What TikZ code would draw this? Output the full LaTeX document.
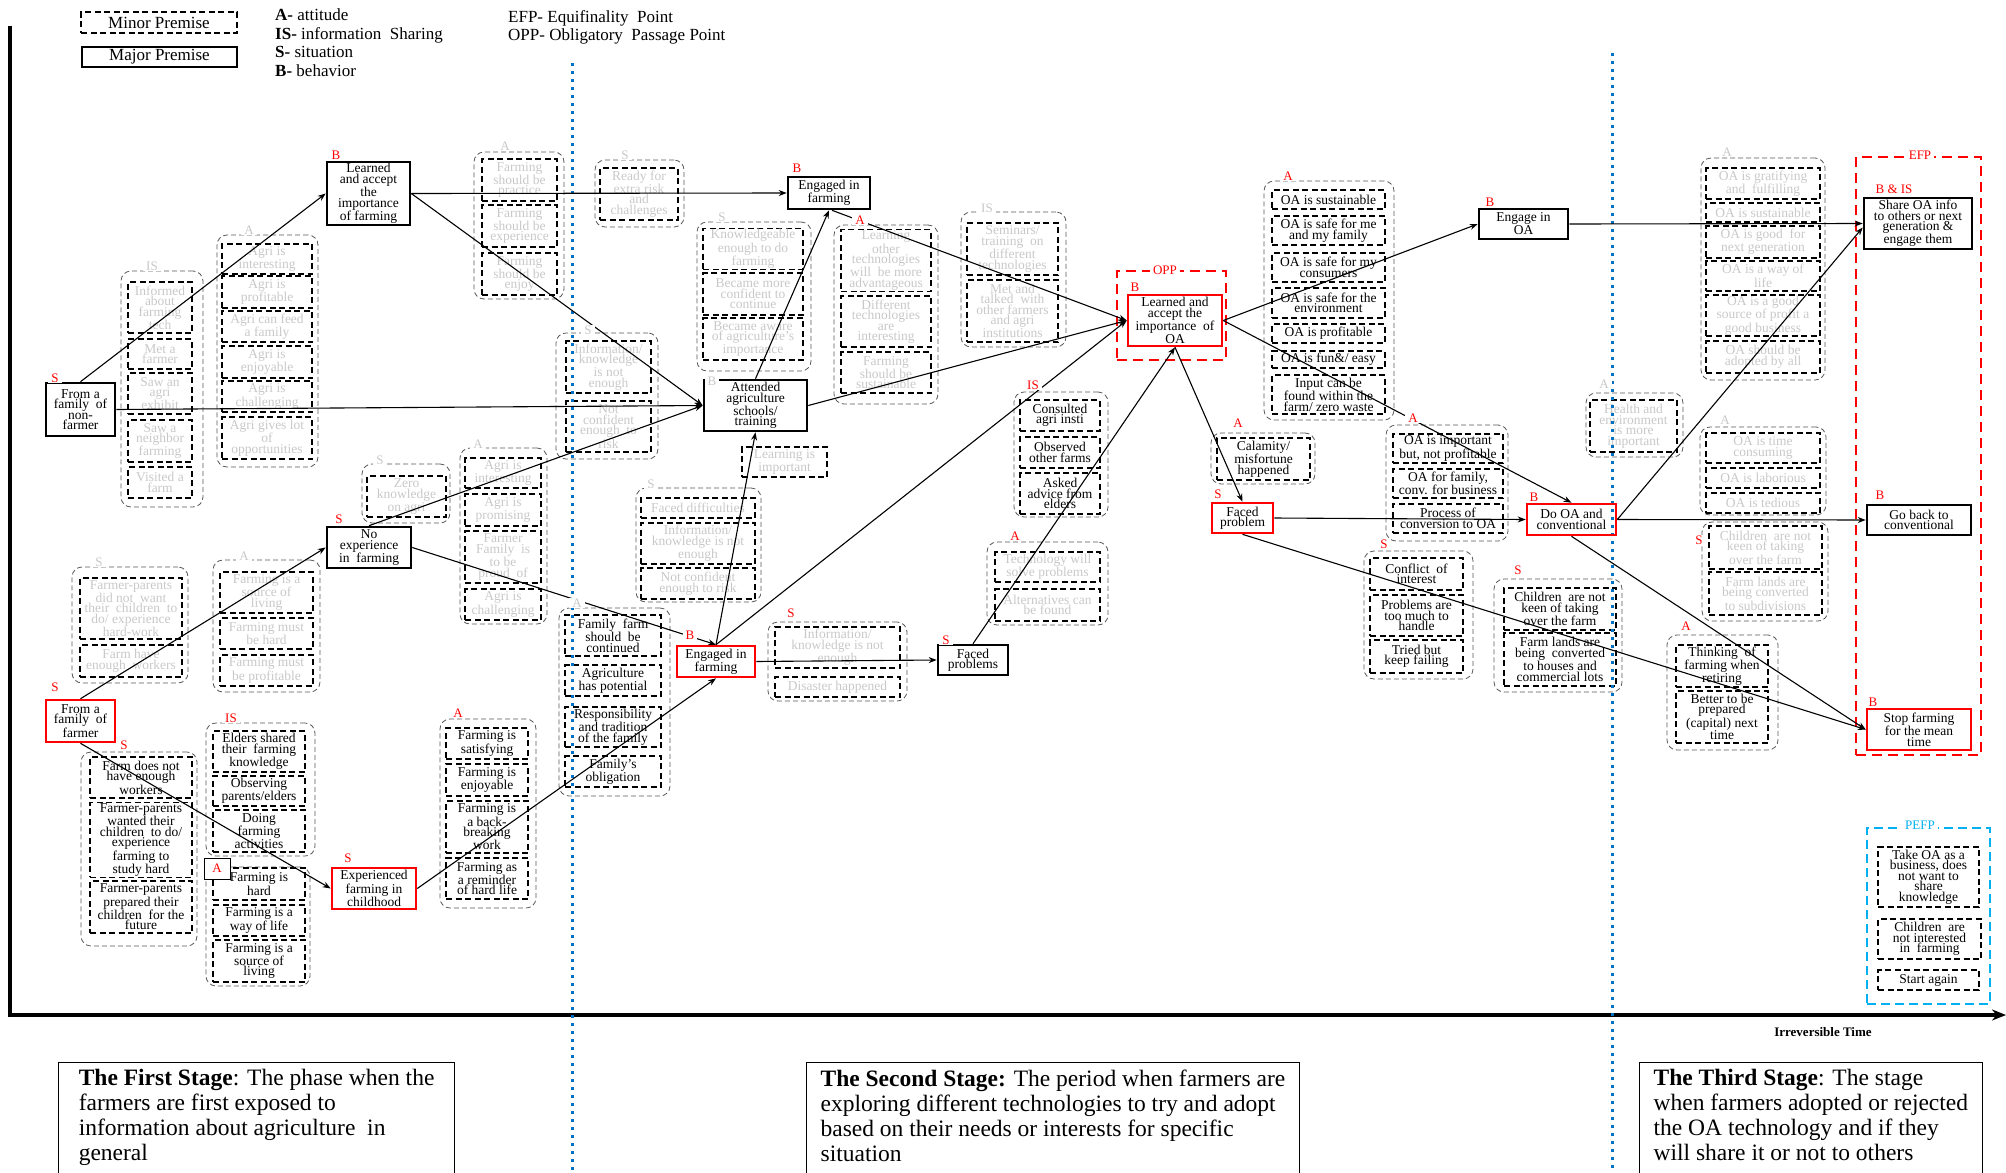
\documentclass[tikz,border=0pt]{standalone}
\usepackage{fontspec}
\setmainfont{Liberation Serif}
\usepackage{xcolor}
\usetikzlibrary{arrows.meta}
\definecolor{dotblue}{RGB}{0,112,192}
\definecolor{pefpblue}{RGB}{0,176,240}
\definecolor{fadegray}{RGB}{200,200,200}
\newcommand{\boxfont}{\fontsize{13.5}{10.5}\selectfont}
\newcommand{\tagfont}{\fontsize{13}{13}\selectfont}
\newcommand{\legfont}{\fontsize{17}{18.5}\selectfont}
\newcommand{\stagefont}{\fontsize{23.5}{25}\selectfont}
% node placed by its corners: style, name, x1, y1, x2, y2, text
\newcommand{\premisebox}[7]{%
  \pgfmathsetmacro{\pbw}{#5-#3}%
  \pgfmathsetmacro{\pbh}{#6-#4}%
  \pgfmathsetmacro{\pbx}{(#3+#5)/2}%
  \pgfmathsetmacro{\pby}{(#4+#6)/2}%
  \node[#1,minimum width=\pbw pt,minimum height=\pbh pt] (#2) at (\pbx,\pby) {#7};}

\begin{document}
\begin{tikzpicture}[x=1pt,y=-1pt,
    major/.style={draw,line width=2.6pt,inner sep=1pt,align=center,font=\boxfont},
    majorred/.style={major,draw=red},
    minor/.style={draw,dash pattern=on 6pt off 3.5pt,line width=1.4pt,inner sep=1pt,align=center,font=\boxfont},
    faded/.style={minor,text=fadegray},
    grp/.style={draw=black!65,rounded corners=10pt,dash pattern=on 5pt off 3pt,line width=0.8pt},
    tag/.style={text=red,fill=white,inner xsep=3pt,inner ysep=0.5pt,font=\tagfont},
    fadetag/.style={tag,text=fadegray},
    flow/.style={-{Stealth[length=8pt,width=6pt]},line width=1.1pt},
    endpoint/.style={draw=red,dash pattern=on 10pt off 6pt,line width=1.8pt},
    stagebox/.style={draw,line width=1.2pt,anchor=north west,align=left,inner xsep=14pt,inner ysep=7pt,text depth=60pt,font=\stagefont},
    stageline/.style={dotblue,line width=3pt,dash pattern=on 3pt off 5pt}
]
\useasboundingbox (0,0) rectangle (2006,1173);

% Legend
\premisebox{minor,line width=1.2pt,font=\legfont}{legminor}{81}{12}{237}{33}{Minor Premise}
\premisebox{major,line width=1.5pt,font=\legfont}{legmajor}{82}{47}{237}{67}{Major Premise}
\node[anchor=north west,align=left,inner sep=0pt,font=\legfont] (keyletters) at (275,9)
    {\textbf{A-} attitude\\\textbf{IS-} information~ Sharing\\\textbf{S-} situation\\\textbf{B-} behavior};
\node[anchor=north west,align=left,inner sep=0pt,font=\legfont] (keypoints) at (508,10)
    {EFP- Equifinality~ Point\\OPP- Obligatory~ Passage Point};

% Time axis
\coordinate (ytop) at (10,26);
\coordinate (origin) at (10,1015);
\coordinate (xend) at (2006,1015);
\draw[line width=4pt,-{Stealth[length=14pt,width=11pt]}] (ytop) -- (origin) -- (xend);
\node[font=\bfseries\fontsize{13}{13}\selectfont] (timelabel) at (1823,1032) {Irreversible Time};

% Stages
\node[stagebox,minimum width=396pt] (stageone) at (58,1062)
    {\textbf{The First Stage}: The phase when the\\farmers are first exposed to\\information about agriculture~ in\\general};
\node[stagebox,minimum width=489pt] (stagetwo) at (806,1062)
    {\textbf{The Second Stage:} The period when farmers are\\exploring different technologies to try and adopt\\based on their needs or interests for specific\\situation};
\node[stagebox] (stagethree) at (1639,1062)
    {\textbf{The Third Stage}: The stage\\when farmers adopted or rejected\hspace*{60pt}\\the OA technology and if they\\will share it or not to others};

% Minor premise groups, first stage
\premisebox{grp}{gexpo}{121}{271}{203}{507}{}
\premisebox{faded}{expo1}{128}{282}{192}{333}{Informed\\about\\farming\\tech}
\premisebox{faded}{expo2}{128}{339}{192}{369}{Met a\\farmer}
\premisebox{faded}{expo3}{128}{373}{192}{414}{Saw an\\agri\\exhibit}
\premisebox{faded}{expo4}{128}{420}{192}{462}{Saw a\\neighbor\\farming}
\premisebox{faded}{expo5}{128}{467}{192}{498}{Visited a\\farm}

\premisebox{grp}{gagri}{217}{235}{318}{467}{}
\premisebox{faded}{agri1}{222}{244}{312}{274}{Agri is\\interesting}
\premisebox{faded}{agri2}{222}{276}{312}{308}{Agri is\\profitable}
\premisebox{faded}{agri3}{222}{311}{312}{342}{Agri can feed\\a family}
\premisebox{faded}{agri4}{222}{346}{312}{378}{Agri is\\enjoyable}
\premisebox{faded}{agri5}{222}{381}{312}{412}{Agri is\\challenging}
\premisebox{faded}{agri6}{222}{417}{312}{459}{Agri gives lot\\of\\opportunities}

\premisebox{grp}{gshould}{474}{152}{564}{299}{}
\premisebox{faded}{should1}{482}{159}{557}{201}{Farming\\should be\\practice}
\premisebox{faded}{should2}{482}{205}{557}{247}{Farming\\should be\\experience}
\premisebox{faded}{should3}{482}{253}{557}{295}{Farming\\should be\\enjoy}

\premisebox{grp}{gzero}{362}{464}{450}{523}{}
\premisebox{faded}{zero1}{367}{476}{446}{517}{Zero\\knowledge\\on agri}

\premisebox{grp}{gproud}{460}{448}{547}{624}{}
\premisebox{faded}{proud1}{465}{458}{541}{488}{Agri is\\interesting}
\premisebox{faded}{proud2}{465}{494}{541}{526}{Agri is\\promising}
\premisebox{faded}{proud3}{465}{531}{541}{583}{Farmer\\Family~ is\\to be\\proud~ of}
\premisebox{faded}{proud4}{465}{589}{541}{620}{Agri is\\challenging}

\premisebox{grp}{gparents}{72}{567}{188}{683}{}
\premisebox{faded}{par1}{80}{578}{182}{639}{Farmer-parents\\did not~ want\\their~ children~ to\\do/ experience\\hard-work}
\premisebox{faded}{par2}{80}{645}{182}{677}{Farm have\\enough~ workers}

\premisebox{grp}{gliving}{213}{560}{320}{692}{}
\premisebox{faded}{liv1}{220}{572}{313}{613}{Farming is a\\source of\\living}
\premisebox{faded}{liv2}{220}{618}{313}{649}{Farming must\\be hard}
\premisebox{faded}{liv3}{220}{655}{313}{686}{Farming must\\be profitable}

\premisebox{grp}{gworkers}{81}{752}{197}{946}{}
\premisebox{minor}{work1}{90}{757}{192}{798}{Farm does not\\have enough\\workers}
\premisebox{minor}{work2}{90}{804}{192}{876}{Farmer-parents\\wanted their\\children~ to do/\\experience\\farming to\\study hard}
\premisebox{minor}{work3}{90}{881}{192}{933}{Farmer-parents\\prepared their\\children~ for the\\future}

\premisebox{grp}{gelders}{206}{723}{315}{856}{}
\premisebox{minor}{eld1}{213}{731}{305}{772}{Elders shared\\their~ farming\\knowledge}
\premisebox{minor}{eld2}{213}{776}{305}{806}{Observing\\parents/elders}
\premisebox{minor}{eld3}{213}{810}{305}{852}{Doing\\farming\\activities}

\premisebox{grp}{ghard}{206}{867}{310}{986}{}
\premisebox{minor}{hard1}{213}{868}{305}{900}{Farming is\\hard}
\premisebox{minor}{hard2}{213}{905}{305}{936}{Farming is a\\way of life}
\premisebox{minor}{hard3}{213}{940}{305}{982}{Farming is a\\source of\\living}
\premisebox{draw,line width=1pt,fill=white,text=red,font=\tagfont,inner sep=0pt}{hardtag}{204}{858}{230}{879}{A}

\premisebox{grp}{gsatis}{440}{719}{536}{908}{}
\premisebox{minor}{sat1}{446}{728}{528}{759}{Farming is\\satisfying}
\premisebox{minor}{sat2}{446}{764}{528}{796}{Farming is\\enjoyable}
\premisebox{minor}{sat3}{446}{801}{528}{853}{Farming is\\a back-\\breaking\\work}
\premisebox{minor}{sat4}{446}{858}{528}{899}{Farming as\\a reminder\\of hard life}

% Minor premise groups, second stage
\premisebox{grp}{grisk}{595}{160}{684}{227}{}
\premisebox{faded}{risk1}{600}{168}{678}{220}{Ready for\\extra risk\\and\\challenges}

\premisebox{grp}{gconf}{697}{222}{811}{371}{}
\premisebox{faded}{conf1}{703}{229}{803}{269}{Knowledgeable\\enough to do\\farming}
\premisebox{faded}{conf2}{703}{273}{803}{315}{Became more\\confident to\\continue}
\premisebox{faded}{conf3}{703}{318}{803}{360}{Became aware\\of agriculture's\\importance}

\premisebox{grp}{gtech}{834}{225}{938}{404}{}
\premisebox{faded}{tech1}{841}{230}{931}{291}{Learning\\other\\technologies\\will~ be more\\advantageous}
\premisebox{faded}{tech2}{841}{296}{931}{347}{Different\\technologies\\are\\interesting}
\premisebox{faded}{tech3}{841}{352}{931}{393}{Farming\\should be\\sustainable}

\premisebox{grp}{gsem}{961}{212}{1066}{347}{}
\premisebox{faded}{sem1}{967}{223}{1058}{275}{Seminars/\\training~ on\\different\\technologies}
\premisebox{faded}{sem2}{967}{280}{1058}{342}{Met and\\talked~ with\\other farmers\\and agri\\institutions}

\premisebox{grp}{gnotenough}{556}{333}{658}{459}{}
\premisebox{faded}{ne1}{566}{341}{651}{393}{Information/\\knowledge\\is not\\enough}
\premisebox{faded}{ne2}{566}{401}{651}{452}{Not\\confident\\enough~ to\\risk}

\premisebox{grp}{gfamily}{559}{608}{670}{796}{}
\premisebox{minor}{fam1}{565}{615}{661}{656}{Family~ farm\\should~ be\\continued}
\premisebox{minor}{fam2}{565}{665}{661}{696}{Agriculture\\has potential}
\premisebox{minor}{fam3}{565}{707}{661}{747}{Responsibility\\and tradition\\of the family}
\premisebox{minor}{fam4}{565}{756}{661}{787}{Family's\\obligation}

\premisebox{grp}{gdiff}{636}{488}{761}{602}{}
\premisebox{faded}{diff1}{641}{498}{755}{518}{Faced difficulties}
\premisebox{faded}{diff2}{641}{523}{755}{564}{Information/\\knowledge is not\\enough}
\premisebox{faded}{diff3}{641}{568}{755}{599}{Not confident\\enough to risk}

\premisebox{faded}{learnimp}{742}{447}{827}{477}{Learning is\\important}

\premisebox{grp}{gdisaster}{768}{622}{907}{701}{}
\premisebox{faded}{dis1}{775}{627}{900}{668}{Information/\\knowledge is not\\enough}
\premisebox{faded}{dis2}{775}{677}{900}{697}{Disaster happened}

\premisebox{grp}{gconsult}{1014}{392}{1108}{517}{}
\premisebox{minor}{cons1}{1020}{400}{1100}{431}{Consulted\\agri insti}
\premisebox{minor}{cons2}{1020}{437}{1100}{468}{Observed\\other farms}
\premisebox{minor}{cons3}{1020}{473}{1100}{514}{Asked\\advice from\\elders}

\premisebox{grp}{gsolve}{987}{542}{1108}{625}{}
\premisebox{faded}{solve1}{995}{552}{1100}{582}{Technology will\\solve problems}
\premisebox{faded}{solve2}{995}{589}{1100}{621}{Alternatives can\\be found}

\premisebox{grp}{gsafe}{1264}{181}{1394}{420}{}
\premisebox{minor}{safe1}{1272}{190}{1385}{209}{OA is sustainable}
\premisebox{minor}{safe2}{1272}{216}{1385}{245}{OA is safe for me\\and my family}
\premisebox{minor}{safe3}{1272}{253}{1385}{282}{OA is safe for my\\consumers}
\premisebox{minor}{safe4}{1272}{288}{1385}{318}{OA is safe for the\\environment}
\premisebox{minor}{safe5}{1272}{324}{1385}{343}{OA is profitable}
\premisebox{minor}{safe6}{1272}{351}{1385}{368}{OA is fun\&/ easy}
\premisebox{minor}{safe7}{1272}{375}{1385}{414}{Input can be\\found within the\\farm/ zero waste}

\premisebox{grp}{gcalam}{1211}{433}{1315}{484}{}
\premisebox{minor}{calam1}{1217}{438}{1310}{480}{Calamity/\\misfortune\\happened}

\premisebox{grp}{gconv}{1386}{425}{1508}{541}{}
\premisebox{minor}{conv1}{1393}{434}{1503}{463}{OA is important\\but, not profitable}
\premisebox{minor}{conv2}{1393}{469}{1503}{498}{OA for family,\\conv. for business}
\premisebox{minor}{conv3}{1393}{504}{1503}{533}{Process of\\conversion to OA}

\premisebox{grp}{gconflict}{1364}{551}{1473}{679}{}
\premisebox{minor}{cfl1}{1370}{558}{1463}{590}{Conflict~ of\\interest}
\premisebox{minor}{cfl2}{1370}{595}{1463}{636}{Problems are\\too much to\\handle}
\premisebox{minor}{cfl3}{1370}{640}{1463}{673}{Tried but\\keep failing}

\premisebox{grp}{gchild}{1494}{579}{1622}{692}{}
\premisebox{minor}{child1}{1504}{588}{1616}{630}{Children~ are not\\keen of taking\\over the farm}
\premisebox{minor}{child2}{1504}{633}{1616}{686}{Farm lands are\\being~ converted\\to houses and\\commercial lots}

% Minor premise groups, third stage
\premisebox{grp}{ghealth}{1586}{393}{1683}{457}{}
\premisebox{faded}{health1}{1590}{400}{1677}{452}{Health and\\environment\\is more\\important}

\premisebox{grp}{ggood}{1701}{158}{1825}{380}{}
\premisebox{faded}{good1}{1706}{168}{1820}{199}{OA is gratifying\\and~ fulfilling}
\premisebox{faded}{good2}{1706}{203}{1820}{222}{OA is sustainable}
\premisebox{faded}{good3}{1706}{226}{1820}{258}{OA is good~ for\\next generation}
\premisebox{faded}{good4}{1706}{261}{1820}{291}{OA is a way of\\life}
\premisebox{faded}{good5}{1706}{295}{1820}{336}{OA is a good\\source of profit a\\good business}
\premisebox{faded}{good6}{1706}{341}{1820}{373}{OA should be\\adopted by all}

\premisebox{grp}{gtedious}{1700}{427}{1826}{515}{}
\premisebox{faded}{ted1}{1706}{433}{1820}{463}{OA is time\\consuming}
\premisebox{faded}{ted2}{1706}{468}{1820}{488}{OA is laborious}
\premisebox{faded}{ted3}{1706}{493}{1820}{513}{OA is tedious}

\premisebox{grp}{gsubdiv}{1702}{522}{1828}{621}{}
\premisebox{faded}{sub1}{1709}{526}{1822}{569}{Children~ are not\\keen of taking\\over the farm}
\premisebox{faded}{sub2}{1709}{572}{1822}{615}{Farm lands are\\being converted\\to subdivisions}

\premisebox{grp}{gretire}{1667}{635}{1778}{750}{}
\premisebox{minor}{ret1}{1676}{645}{1768}{687}{Thinking~ of\\farming when\\retiring}
\premisebox{minor}{ret2}{1676}{691}{1768}{743}{Better to be\\prepared\\(capital) next\\time}

% Stage dividers
\draw[stageline] (572,63) -- (572,1180);
\draw[stageline] (1612,53) -- (1612,1180);

% OPP, EFP and PEFP frames
\premisebox{endpoint}{oppframe}{1117}{271}{1226}{360}{}
\premisebox{endpoint}{efpframe}{1856}{157}{1981}{755}{}
\premisebox{endpoint,draw=pefpblue,dash pattern=on 9pt off 5pt,line width=1.5pt}{pefpframe}{1867}{828}{1990}{1004}{}
\premisebox{minor}{pefp1}{1878}{847}{1979}{907}{Take OA as a\\business, does\\not want to\\share\\knowledge}
\premisebox{minor}{pefp2}{1878}{919}{1981}{959}{Children~ are\\not interested\\in~ farming}
\premisebox{minor}{pefp3}{1878}{970}{1979}{990}{Start again}

% Major premises
\premisebox{major}{nonfarm}{46}{383}{115}{436}{From a\\family~ of\\non-\\farmer}
\premisebox{majorred}{farmfam}{46}{700}{115}{742}{From a\\family~ of\\farmer}
\premisebox{major}{learnfarm}{327}{162}{410}{225}{Learned\\and accept\\the\\importance\\of farming}
\premisebox{major}{noexp}{327}{527}{411}{568}{No\\experience\\in~ farming}
\premisebox{majorred}{childexp}{332}{868}{416}{909}{Experienced\\farming in\\childhood}
\premisebox{major}{engtop}{788}{177}{870}{209}{Engaged in\\farming}
\premisebox{major}{attend}{704}{380}{807}{431}{Attended\\agriculture\\schools/\\training}
\premisebox{majorred}{engred}{677}{646}{755}{677}{Engaged in\\farming}
\premisebox{major}{facedtech}{938}{645}{1008}{675}{Faced\\problems}
\premisebox{majorred}{learnoa}{1128}{295}{1222}{346}{Learned and\\accept the\\importance~ of\\OA}
\premisebox{majorred}{facedoa}{1212}{503}{1273}{533}{Faced\\problem}
\premisebox{major}{engoa}{1479}{209}{1568}{239}{Engage in\\OA}
\premisebox{majorred}{dooa}{1527}{504}{1616}{535}{Do OA and\\conventional}
\premisebox{major}{shareoa}{1864}{198}{1972}{249}{Share OA info\\to others or next\\generation \&\\engage them}
\premisebox{major}{goback}{1867}{505}{1971}{535}{Go back to\\conventional}
\premisebox{majorred}{stopfarm}{1867}{709}{1971}{750}{Stop farming\\for the mean\\time}

% Paths between premises
\draw[flow] (nonfarm.north) -- (learnfarm.west);
\draw[flow] (nonfarm.east) -- (attend.west);
\draw[flow] (learnfarm.east) -- (engtop.west);
\draw[flow] (learnfarm.east) -- (attend.west);
\draw[flow] (noexp.north) -- (attend.west);
\draw[flow] (farmfam.north) -- (noexp.west);
\draw[flow] (farmfam.south) -- (childexp.west);
\draw[flow] (noexp.east) -- (engred.north);
\draw[flow] (childexp.east) -- (engred.south);
\draw[flow] (engred.north) -- (attend.south);
\draw[flow] (attend.north) -- (engtop.south);
\draw[flow] ([xshift=3pt]engtop.south) -- (learnoa.west);
\draw[flow] (attend.east) -- (learnoa.west);
\draw[flow] (engred.north) -- (learnoa.west);
\draw[flow] (engred.east) -- (facedtech.west);
\draw[flow] (facedtech.north) -- (learnoa.south);
\draw[flow] (learnoa.south) -- (facedoa.north);
\draw[flow] (learnoa.east) -- (engoa.west);
\draw[flow] (learnoa.east) -- (dooa.north);
\draw[flow] (engoa.east) -- (shareoa.west);
\draw[flow] (facedoa.east) -- (dooa.west);
\draw[flow] (facedoa.south) -- (stopfarm.west);
\draw[flow] (dooa.east) -- (goback.west);
\draw[flow] (dooa.east) -- ([yshift=-4pt]shareoa.west);
\draw[flow] (dooa.south) -- (stopfarm.west);

% Frame labels
\node[tag] (opplabel) at (1165,270) {OPP};
\node[tag] (efplabel) at (1920,155) {EFP};
\node[tag,text=pefpblue] (pefplabel) at (1920,825) {PEFP};

% Type tags of major premises
\node[tag] (t-nonfarm) at (55,378) {S};
\node[tag] (t-farmfam) at (55,687) {S};
\node[tag] (t-learnfarm) at (336,155) {B};
\node[tag] (t-noexp) at (339,519) {S};
\node[tag] (t-childexp) at (348,858) {S};
\node[tag] (t-engtop) at (797,168) {B};
\node[fadetag] (t-attend) at (712,381) {B};
\node[tag] (t-engred) at (690,635) {B};
\node[tag] (t-facedtech) at (946,640) {S};
\node[tag] (t-learnoa) at (1135,287) {B};
\node[tag] (t-facedoa) at (1218,494) {S};
\node[tag] (t-engoa) at (1490,202) {B};
\node[tag] (t-dooa) at (1534,497) {B};
\node[tag] (t-shareoa) at (1894,189) {B \& IS};
\node[tag] (t-goback) at (1880,495) {B};
\node[tag] (t-stopfarm) at (1873,702) {B};

% Type tags of minor premise groups
\node[fadetag] (h-expo) at (152,266) {IS};
\node[fadetag] (h-agri) at (249,230) {A};
\node[fadetag] (h-should) at (505,146) {A};
\node[fadetag] (h-zero) at (380,460) {S};
\node[fadetag] (h-proud) at (478,444) {A};
\node[fadetag] (h-parents) at (99,562) {S};
\node[fadetag] (h-living) at (244,556) {A};
\node[tag] (h-workers) at (124,745) {S};
\node[tag] (h-elders) at (231,718) {IS};
\node[tag] (h-satis) at (458,713) {A};
\node[fadetag] (h-risk) at (625,155) {S};
\node[fadetag] (h-conf) at (722,217) {S};
\node[tag] (h-tech) at (860,220) {A};
\node[fadetag] (h-sem) at (987,208) {IS};
\node[fadetag] (h-notenough) at (588,330) {S};
\node[fadetag] (h-family) at (577,603) {A};
\node[fadetag] (h-diff) at (651,484) {S};
\node[tag] (h-disaster) at (791,613) {S};
\node[tag] (h-consult) at (1033,385) {IS};
\node[tag] (h-solve) at (1015,536) {A};
\node[tag] (h-safe) at (1288,176) {A};
\node[tag] (h-calam) at (1238,423) {A};
\node[tag] (h-conv) at (1413,418) {A};
\node[tag] (h-conflict) at (1384,544) {S};
\node[tag] (h-child) at (1518,570) {S};
\node[fadetag] (h-health) at (1604,384) {A};
\node[fadetag] (h-good) at (1727,152) {A};
\node[fadetag] (h-tedious) at (1725,420) {A};
\node[tag] (h-subdiv) at (1699,540) {S};
\node[tag] (h-retire) at (1686,626) {A};

\end{tikzpicture}
\end{document}
